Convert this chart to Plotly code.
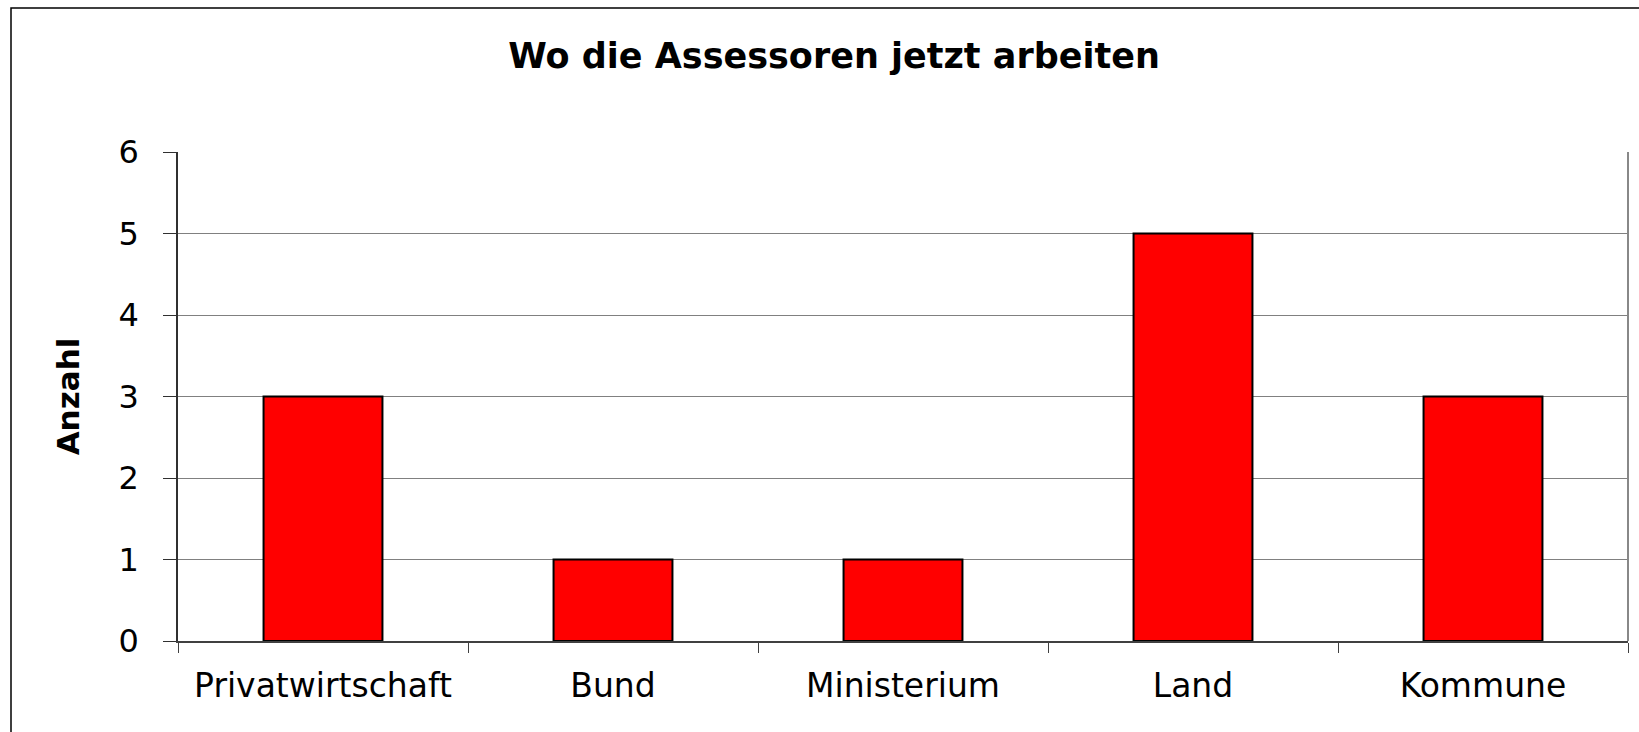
import plotly.graph_objects as go

categories = ["Privatwirtschaft", "Bund", "Ministerium", "Land", "Kommune"]
values = [3, 1, 1, 5, 3]
y_ticks = [0, 1, 2, 3, 4, 5, 6]

W, H = 1639, 732
L, R, T, B = 178, 11, 152, 91  # plot area 178..1628 x 152..641
pw, ph = W - L - R, H - T - B

def px_x(p):
    return (p - L) / pw

def px_y(p):
    return (H - B - p) / ph

fig = go.Figure(
    go.Bar(
        x=categories,
        y=values,
        marker=dict(color="#FF0000", line=dict(color="#000000", width=2)),
        showlegend=False,
    )
)

fig.update_layout(
    width=W,
    height=H,
    margin=dict(l=L, r=R, t=T, b=B, pad=0),
    paper_bgcolor="white",
    plot_bgcolor="white",
    bargap=0.59,
    font=dict(family="DejaVu Sans", size=32, color="black"),
    title=dict(
        text="<b>Wo die Assessoren jetzt arbeiten</b>",
        font=dict(family="DejaVu Sans", size=35, color="black"),
        x=834 / W,
        xref="container",
        xanchor="center",
        y=1 - 56 / H,
        yref="container",
        yanchor="middle",
    ),
)

fig.update_xaxes(
    type="category",
    showgrid=False,
    showline=True,
    linecolor="#404040",
    linewidth=1.5,
    ticks="outside",
    tickson="boundaries",
    ticklen=10,
    tickcolor="#404040",
    tickwidth=1,
    tickfont=dict(family="DejaVu Sans", size=33, color="black"),
    ticklabelstandoff=15,
)

fig.update_yaxes(
    range=[0, 6],
    tickvals=y_ticks,
    ticktext=[str(v) for v in y_ticks],
    showgrid=True,
    gridcolor="#808080",
    gridwidth=1,
    showline=True,
    linecolor="#303030",
    linewidth=1.5,
    ticks="outside",
    ticklen=13,
    tickcolor="#303030",
    tickwidth=1,
    tickfont=dict(family="DejaVu Sans", size=32, color="black"),
    ticklabelstandoff=18,
    zeroline=False,
    title=dict(
        text="<b>Anzahl</b>",
        font=dict(family="DejaVu Sans", size=31, color="black"),
        standoff=30,
    ),
)

# right border of plot area (gray)
fig.add_shape(
    type="line", xref="paper", yref="paper",
    x0=1, x1=1, y0=0, y1=1,
    line=dict(color="#888888", width=2),
)
# outer chart border
fig.add_shape(
    type="rect", xref="paper", yref="paper",
    x0=px_x(11), x1=px_x(1660), y0=px_y(760), y1=px_y(8),
    line=dict(color="#000000", width=1.5),
    fillcolor="rgba(0,0,0,0)",
    layer="below",
)

fig.write_html(
    "out.html",
    config={"displayModeBar": False},
    post_script="document.body.style.margin='0';document.body.style.overflow='hidden';",
)
